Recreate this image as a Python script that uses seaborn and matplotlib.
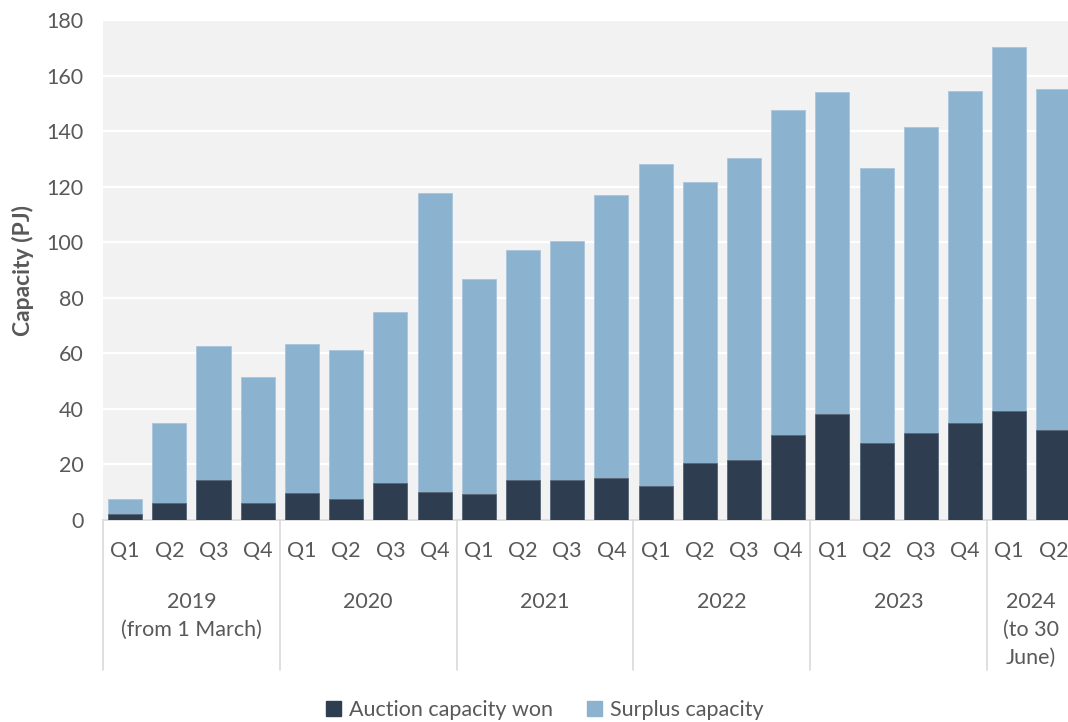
import matplotlib
matplotlib.use("Agg")
import matplotlib.pyplot as plt
import matplotlib.transforms as mtransforms
from matplotlib.patches import Patch
import seaborn as sns
import pandas as pd

years = ["2019", "2019", "2019", "2019",
         "2020", "2020", "2020", "2020",
         "2021", "2021", "2021", "2021",
         "2022", "2022", "2022", "2022",
         "2023", "2023", "2023", "2023",
         "2024", "2024"]
quarters = ["Q1", "Q2", "Q3", "Q4"] * 5 + ["Q1", "Q2"]
auction_won = [2.0, 6.1, 14.5, 6.1,
               9.8, 7.6, 13.5, 10.2,
               9.4, 14.5, 14.5, 15.0,
               12.3, 20.5, 21.5, 30.7,
               38.1, 27.6, 31.3, 34.9,
               39.1, 32.3]
total_capacity = [7.4, 34.8, 62.6, 51.4,
                  63.4, 61.1, 75.0, 117.6,
                  86.6, 97.2, 100.4, 117.1,
                  128.2, 121.8, 130.5, 147.7,
                  154.2, 126.7, 141.5, 154.5,
                  170.3, 155.0]
surplus = [t - a for t, a in zip(total_capacity, auction_won)]
year_groups = ["2019\n(from 1 March)", "2020", "2021", "2022", "2023", "2024\n(to 30\nJune)"]
group_sizes = [4, 4, 4, 4, 4, 2]
yticks = [0, 20, 40, 60, 80, 100, 120, 140, 160, 180]

df = pd.DataFrame({
    "period": [f"{y} {q}" for y, q in zip(years, quarters)],
    "auction": auction_won,
    "surplus": surplus,
})
df["total"] = df["auction"] + df["surplus"]

DARK = "#2E3D50"
LIGHT = "#8BB2CF"
TXT = "#595959"
LINE = "#D9D9D9"
FS = 15.5

sns.set_theme(style="white")
plt.rcParams["font.family"] = ["Lato", "DejaVu Sans"]

fig = plt.figure(figsize=(10.68, 7.22), dpi=100)
ax = fig.add_axes([103 / 1068, (722 - 520) / 722, 1 - 103 / 1068, 500 / 722])
ax.set_facecolor("#F2F2F2")

order = list(df["period"])
sns.barplot(data=df, x="period", y="total", order=order, color=LIGHT,
            width=0.77, edgecolor="#A9C6DC", linewidth=0.6, ax=ax, zorder=3,
            saturation=1)
sns.barplot(data=df, x="period", y="auction", order=order, color=DARK,
            width=0.77, edgecolor="#5A6878", linewidth=0.6, ax=ax, zorder=4,
            saturation=1)

ax.set_ylim(0, 180)
ax.set_xlim(-0.5, 21.33)
ax.set_yticks(yticks)
ax.set_yticklabels([str(v) for v in yticks])
ax.yaxis.grid(True, color="white", linewidth=1.6, zorder=1)
ax.xaxis.grid(False)
ax.set_axisbelow(True)
for s in ["top", "right", "left"]:
    ax.spines[s].set_visible(False)
ax.spines["bottom"].set_color(LINE)
ax.spines["bottom"].set_linewidth(1.2)

ax.tick_params(axis="y", length=0, pad=14, labelsize=FS, labelcolor=TXT)
ax.tick_params(axis="x", length=0, pad=15, labelsize=FS, labelcolor=TXT)
ax.set_xticks(range(len(quarters)))
ax.set_xticklabels(quarters)
ax.set_xlabel("")
ax.set_ylabel("Capacity (PJ)", fontsize=16.5, fontweight="bold", color=TXT, labelpad=9)

trans = mtransforms.blended_transform_factory(ax.transData, ax.transAxes)
bounds = [-0.5]
for g in group_sizes:
    bounds.append(bounds[-1] + g)
for b in bounds[:-1]:
    ax.plot([b, b], [0, -0.30], transform=trans, color=LINE, lw=1.2, clip_on=False)
for i, lab in enumerate(year_groups):
    c = (bounds[i] + bounds[i + 1]) / 2
    ax.text(c, -0.143, lab, transform=trans, ha="center", va="top",
            fontsize=FS, color=TXT, linespacing=1.5)

handles = [Patch(facecolor=DARK, edgecolor=DARK, label="Auction capacity won"),
           Patch(facecolor=LIGHT, edgecolor=LIGHT, label="Surplus capacity")]
fig.legend(handles=handles, loc="lower center", bbox_to_anchor=(0.51, -0.024), ncol=2,
           frameon=False, fontsize=FS, handlelength=0.7, handleheight=0.7,
           handletextpad=0.35, columnspacing=1.6, labelcolor=TXT)

fig.savefig("out.png", dpi=100)
